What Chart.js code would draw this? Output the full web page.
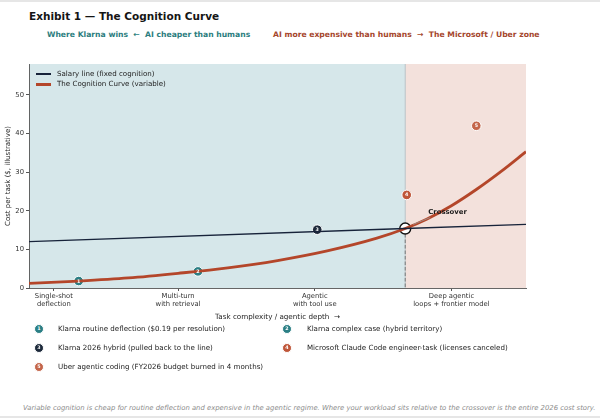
<!DOCTYPE html>
<html>
<head>
<meta charset="utf-8">
<script src="https://cdn.jsdelivr.net/npm/chart.js@4.4.1/dist/chart.umd.min.js"></script>
<style>
  body { margin: 0; background: #fff; font-family: "DejaVu Sans", sans-serif; }
  #wrap { position: relative; width: 600px; height: 418px; overflow: hidden; background: #fff; }
  #wrap .edge { position: absolute; left: 0; width: 600px; height: 2px; background: #e6e6e6; }
  #cv { position: absolute; left: 0; top: 50px; }
  .txt { position: absolute; white-space: nowrap; }
  #title { left: 29px; top: 10px; font-size: 10.5px; font-weight: bold; color: #151515; line-height: 12px; }
  .sub { top: 30px; font-size: 7.65px; font-weight: bold; line-height: 10px; }
  .lg { font-size: 7.1px; color: #222; line-height: 10px; }
  .lgline { position: absolute; left: 36px; width: 15px; }
  .dot { position: absolute; width: 8px; height: 8px; border-radius: 50%; border: 1px solid #fff;
         color: #fff; font-size: 4.8px; font-weight: bold; line-height: 8px; text-align: center; }
  #foot { left: 23px; top: 403px; font-size: 6.85px; font-style: italic; color: #8c8c8c; line-height: 10px; }
</style>
</head>
<body>
<div id="wrap">
  <div class="edge" style="top:0"></div>
  <div class="edge" style="top:416px"></div>
  <div class="txt" id="title">Exhibit 1 — The Cognition Curve</div>
  <div class="txt sub" style="left:47px;color:#2b7d7e">Where Klarna wins &nbsp;←&nbsp; AI cheaper than humans</div>
  <div class="txt sub" style="left:273px;color:#a5462c">AI more expensive than humans &nbsp;→&nbsp; The Microsoft / Uber zone</div>
  <canvas id="cv" width="600" height="275"></canvas>
  <div id="legend"></div>
  <div id="cases"></div>
  <div class="txt" id="foot">Variable cognition is cheap for routine deflection and expensive in the agentic regime. Where your workload sits relative to the crossover is the entire 2026 cost story.</div>
</div>
<script>
// ---------------- data ----------------
const tickPos = [0.05, 0.30, 0.575, 0.85];
const tickLabels = [
  ['Single-shot', 'deflection'],
  ['Multi-turn', 'with retrieval'],
  ['Agentic', 'with tool use'],
  ['Deep agentic', 'loops + frontier model']
];
const yTicks = [0, 10, 20, 30, 40, 50];

const curveX = [0, 0.1, 0.2, 0.3, 0.4, 0.5, 0.6, 0.7, 0.757, 0.8, 0.85, 0.9, 0.95, 1.0];
const curveCost = [1.2, 1.8, 2.6, 3.8, 5.2, 7.1, 9.6, 12.9, 15.4, 17.8, 21.3, 25.5, 30.2, 35.3];

const salaryX = [0, 0.757, 1.0];
const salaryCost = [12.0, 15.4, 16.5];

const caseNum = ['1', '2', '3', '4', '5'];
const caseX = [0.10, 0.34, 0.58, 0.76, 0.90];
const caseCost = [1.8, 4.3, 15.1, 24.1, 42.0];
const caseNames = [
  'Klarna routine deflection ($0.19 per resolution)',
  'Klarna complex case (hybrid territory)',
  'Klarna 2026 hybrid (pulled back to the line)',
  'Microsoft Claude Code engineer-task (licenses canceled)',
  'Uber agentic coding (FY2026 budget burned in 4 months)'
];
const caseColors = ['#2b7f85', '#2b7f85', '#1d2a3b', '#bf5639', '#c4664b'];

const crossX = 0.757;
const crossCost = 15.4;

const seriesNames = ['Salary line (fixed cognition)', 'The Cognition Curve (variable)'];
const seriesColors = ['#17233a', '#b4462a'];

// ---------------- html legends ----------------
const legend = document.getElementById('legend');
seriesNames.forEach((name, i) => {
  const y = 74 + i * 10.3;
  legend.innerHTML += `<div class="lgline" style="top:${y - (i ? 1.5 : 0.7)}px;height:${i ? 3 : 1.4}px;background:${seriesColors[i]}"></div>` +
    `<div class="txt lg" style="left:57px;top:${y - 5}px">${name}</div>`;
});
const cases = document.getElementById('cases');
caseNames.forEach((name, i) => {
  const col = i % 2, row = Math.floor(i / 2);
  const y = 329 + row * 19.2;
  const mx = col ? 287 : 39, tx = col ? 307 : 58;
  cases.innerHTML += `<div class="dot" style="left:${mx - 5}px;top:${y - 5}px;background:${caseColors[i]}">${caseNum[i]}</div>` +
    `<div class="txt lg" style="left:${tx}px;top:${y - 5}px">${name}</div>`;
});

// ---------------- plugins ----------------
const zones = {
  id: 'zones',
  beforeDraw(chart) {
    const { ctx, chartArea: a, scales: { x, y } } = chart;
    const cx = x.getPixelForValue(crossX);
    ctx.save();
    ctx.fillStyle = '#d6e7ea';
    ctx.fillRect(a.left, a.top, cx - a.left, a.bottom - a.top);
    ctx.fillStyle = '#f3e1dc';
    ctx.fillRect(cx, a.top, a.right - cx, a.bottom - a.top);
    ctx.strokeStyle = '#b9c2c6';
    ctx.lineWidth = 1;
    ctx.beginPath(); ctx.moveTo(cx, a.top); ctx.lineTo(cx, a.bottom); ctx.stroke();
    ctx.strokeStyle = '#7a7a7a';
    ctx.setLineDash([3.5, 2]);
    ctx.beginPath(); ctx.moveTo(cx, y.getPixelForValue(crossCost)); ctx.lineTo(cx, a.bottom); ctx.stroke();
    ctx.restore();
  }
};

const marks = {
  id: 'marks',
  afterDatasetsDraw(chart) {
    const { ctx, scales: { x, y } } = chart;
    ctx.save();
    const meta = chart.getDatasetMeta(2);
    ctx.fillStyle = '#fff';
    ctx.font = 'bold 4.8px "DejaVu Sans"';
    ctx.textAlign = 'center';
    ctx.textBaseline = 'middle';
    meta.data.forEach((p, i) => ctx.fillText(caseNum[i], p.x, p.y + 0.3));
    // crossover label
    const cx = x.getPixelForValue(crossX), cy = y.getPixelForValue(crossCost);
    ctx.strokeStyle = '#9a9a9a';
    ctx.lineWidth = 0.8;
    ctx.beginPath(); ctx.moveTo(cx + 25, cy - 11); ctx.lineTo(cx + 8, cy - 4); ctx.stroke();
    ctx.fillStyle = '#1c1c1c';
    ctx.font = 'bold 6.9px "DejaVu Sans"';
    ctx.textAlign = 'left';
    ctx.fillText('Crossover', cx + 23, cy - 16);
    ctx.restore();
  }
};

// ---------------- chart ----------------
const tickFont = { family: 'DejaVu Sans', size: 6.8 };
new Chart(document.getElementById('cv'), {
  type: 'line',
  data: {
    datasets: [
      {
        label: seriesNames[0],
        data: salaryX.map((v, i) => ({ x: v, y: salaryCost[i] })),
        borderColor: seriesColors[0], borderWidth: 1.3, pointRadius: 0, tension: 0
      },
      {
        label: seriesNames[1],
        data: curveX.map((v, i) => ({ x: v, y: curveCost[i] })),
        borderColor: seriesColors[1], borderWidth: 2.8, pointRadius: 0,
        cubicInterpolationMode: 'monotone'
      },
      {
        type: 'scatter',
        label: 'cases',
        data: caseX.map((v, i) => ({ x: v, y: caseCost[i] })),
        backgroundColor: caseColors, borderColor: '#ffffff', borderWidth: 1,
        pointRadius: 4.8
      },
      {
        type: 'scatter',
        label: 'crossover',
        data: [{ x: crossX, y: crossCost }],
        backgroundColor: '#ffffff', borderColor: '#111111', borderWidth: 1.4,
        pointRadius: 5.5
      }
    ]
  },
  options: {
    responsive: false,
    devicePixelRatio: 1,
    animation: false,
    layout: { padding: { left: 0, right: 74, top: 14, bottom: 0 } },
    plugins: { legend: { display: false }, tooltip: { enabled: false } },
    scales: {
      x: {
        type: 'linear', min: 0, max: 1,
        afterBuildTicks: s => { s.ticks = tickPos.map(v => ({ value: v })); },
        afterFit: s => { s.height = 37; },
        ticks: {
          callback: (v, i) => tickLabels[i], font: tickFont, color: '#333',
          padding: 1, maxRotation: 0, autoSkip: false
        },
        grid: { drawOnChartArea: false, drawTicks: true, tickLength: 3, color: '#555' },
        border: { display: true, color: '#555', width: 0.9 },
        title: {
          display: true, text: 'Task complexity / agentic depth  →',
          font: { family: 'DejaVu Sans', size: 7.2 }, color: '#222',
          padding: { top: 2, bottom: 4 }
        }
      },
      y: {
        min: 0, max: 58,
        afterBuildTicks: s => { s.ticks = yTicks.map(v => ({ value: v })); },
        afterFit: s => { s.width = 29; },
        ticks: { font: tickFont, color: '#333', padding: 2 },
        grid: { drawOnChartArea: false, drawTicks: true, tickLength: 3, color: '#555' },
        border: { display: true, color: '#555', width: 0.9 },
        title: {
          display: true, text: 'Cost per task ($, illustrative)',
          font: { family: 'DejaVu Sans', size: 7 }, color: '#222',
          padding: { top: 3.5, bottom: 0 }
        }
      }
    }
  },
  plugins: [zones, marks]
});
</script>
</body>
</html>
